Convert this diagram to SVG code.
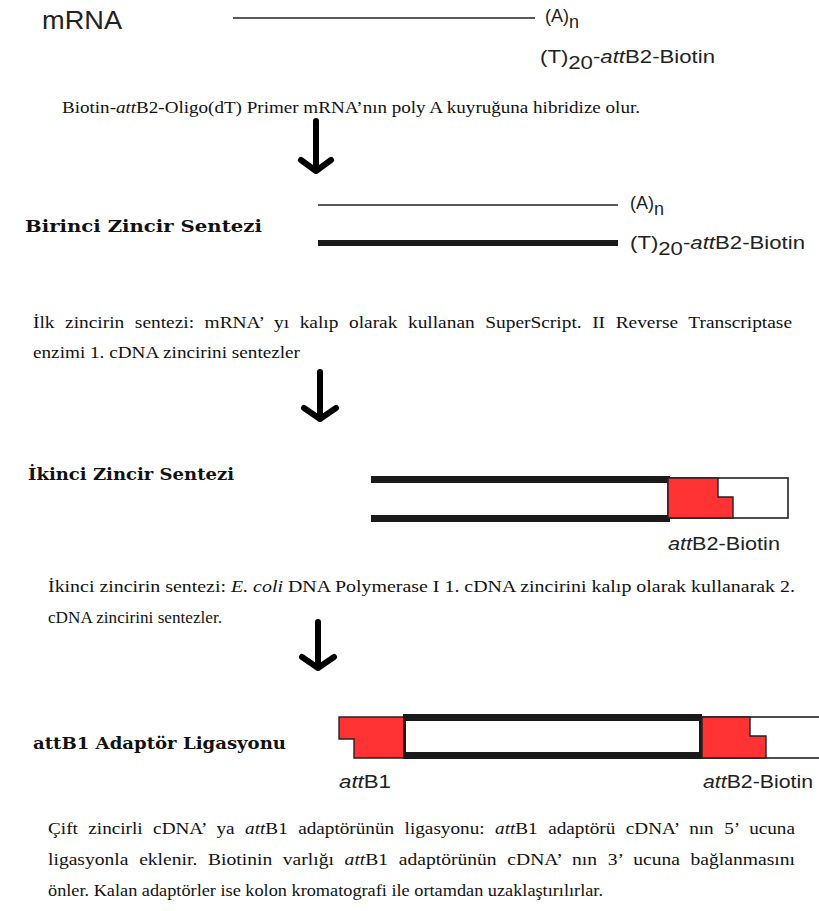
<svg xmlns="http://www.w3.org/2000/svg" width="819" height="911" viewBox="0 0 819 911">
  <style>
    .sans { font-family: "Liberation Sans", Arial, sans-serif; fill: #222; }
    .body { font-family: "Liberation Serif", "Times New Roman", serif; font-size: 17px; fill: #111; }
    .just { word-spacing: 5px; }
    .head { font-family: "DejaVu Serif", "Liberation Serif", serif; font-weight: bold; font-size: 17px; fill: #111; }
    .it { font-style: italic; }
    .strand { fill: #1a1a1a; }
    .att { fill: #ff3333; stroke: #222; stroke-width: 1.4; stroke-linejoin: miter; }
    .cap { fill: #fff; stroke: #222; stroke-width: 1.6; }
    .flow { fill: none; stroke: #000; stroke-width: 6; stroke-linecap: round; stroke-linejoin: round; }
  </style>

  <!-- Step 1: oligo(dT) primer annealing to the poly(A) tail -->
  <g id="mrna-step">
    <text class="sans" x="42" y="29" font-size="25" textLength="80" lengthAdjust="spacingAndGlyphs">mRNA</text>
    <line x1="233" y1="18" x2="535" y2="18" stroke="#222" stroke-width="1.5"/>
    <text class="sans" x="545" y="22" font-size="18">(A)<tspan dy="6">n</tspan></text>
    <text class="sans" x="540" y="63" font-size="18" textLength="175" lengthAdjust="spacingAndGlyphs">(T)<tspan dy="6">20</tspan><tspan dy="-6">-</tspan><tspan class="it">att</tspan>B2-Biotin</text>
    <text class="body" x="62" y="113" textLength="578" lengthAdjust="spacingAndGlyphs">Biotin-<tspan class="it">att</tspan>B2-Oligo(dT) Primer mRNA’nın poly A kuyruğuna hibridize olur.</text>
  </g>

  <!-- Step 2: first strand synthesis -->
  <g id="first-strand">
    <text class="head" x="25" y="232" textLength="237" lengthAdjust="spacingAndGlyphs">Birinci Zincir Sentezi</text>
    <line x1="318" y1="205" x2="618" y2="205" stroke="#222" stroke-width="1.5"/>
    <rect class="strand" x="318" y="240" width="300" height="6"/>
    <text class="sans" x="630" y="209" font-size="18">(A)<tspan dy="6">n</tspan></text>
    <text class="sans" x="630" y="249" font-size="18" textLength="175" lengthAdjust="spacingAndGlyphs">(T)<tspan dy="6">20</tspan><tspan dy="-6">-</tspan><tspan class="it">att</tspan>B2-Biotin</text>
    <text class="body just" x="33" y="328" textLength="759" lengthAdjust="spacingAndGlyphs">İlk zincirin sentezi: mRNA’ yı kalıp olarak kullanan SuperScript. II Reverse Transcriptase</text>
    <text class="body" x="33" y="358" textLength="267" lengthAdjust="spacingAndGlyphs">enzimi 1. cDNA zincirini sentezler</text>
  </g>

  <!-- Step 3: second strand synthesis -->
  <g id="second-strand">
    <text class="head" x="28" y="480" textLength="206" lengthAdjust="spacingAndGlyphs">İkinci Zincir Sentezi</text>
    <rect class="strand" x="371" y="476" width="299" height="7"/>
    <rect class="strand" x="371" y="515" width="299" height="7"/>
    <rect class="cap" x="668" y="478" width="120" height="40"/>
    <polygon class="att" points="668,478 718,478 718,497 733,497 733,518 668,518"/>
    <text class="sans" x="668" y="550" font-size="19" textLength="112" lengthAdjust="spacingAndGlyphs"><tspan class="it">att</tspan>B2-Biotin</text>
    <text class="body" x="48" y="592" textLength="747" lengthAdjust="spacingAndGlyphs">İkinci zincirin sentezi: <tspan class="it">E. coli</tspan> DNA Polymerase I 1. cDNA zincirini kalıp olarak kullanarak 2.</text>
    <text class="body" x="48" y="623" textLength="174" lengthAdjust="spacingAndGlyphs">cDNA zincirini sentezler.</text>
  </g>

  <!-- Step 4: attB1 adapter ligation -->
  <g id="adapter-ligation">
    <text class="head" x="33" y="749" textLength="253" lengthAdjust="spacingAndGlyphs">attB1 Adaptör Ligasyonu</text>
    <polygon class="att" points="339,717 404,717 404,758 354,758 354,739 339,739"/>
    <rect class="strand" x="403" y="714" width="299" height="45"/>
    <rect x="406" y="721" width="293" height="31" fill="#fff"/>
    <rect class="cap" x="702" y="717" width="130" height="41"/>
    <polygon class="att" points="702,717 750,717 750,736 766,736 766,758 702,758"/>
    <text class="sans" x="339" y="788" font-size="19" textLength="52" lengthAdjust="spacingAndGlyphs"><tspan class="it">att</tspan>B1</text>
    <text class="sans" x="703" y="788" font-size="19" textLength="110" lengthAdjust="spacingAndGlyphs"><tspan class="it">att</tspan>B2-Biotin</text>
    <text class="body just" x="48" y="834" textLength="747" lengthAdjust="spacingAndGlyphs">Çift zincirli cDNA’ ya <tspan class="it">att</tspan>B1 adaptörünün ligasyonu: <tspan class="it">att</tspan>B1 adaptörü cDNA’ nın 5’ ucuna</text>
    <text class="body just" x="48" y="865" textLength="747" lengthAdjust="spacingAndGlyphs">ligasyonla eklenir. Biotinin varlığı <tspan class="it">att</tspan>B1 adaptörünün cDNA’ nın 3’ ucuna bağlanmasını</text>
    <text class="body" x="48" y="896" textLength="555" lengthAdjust="spacingAndGlyphs">önler. Kalan adaptörler ise kolon kromatografi ile ortamdan uzaklaştırılırlar.</text>
  </g>

  <!-- Flow arrows between steps -->
  <g id="connectors">
    <path class="flow" d="M316,121 V171 M301,160 L316,171 L331,160"/>
    <path class="flow" d="M320,372 V419 M304,408 L320,419 L336,408"/>
    <path class="flow" d="M318,622 V668 M302,657 L318,668 L334,657"/>
  </g>
</svg>
